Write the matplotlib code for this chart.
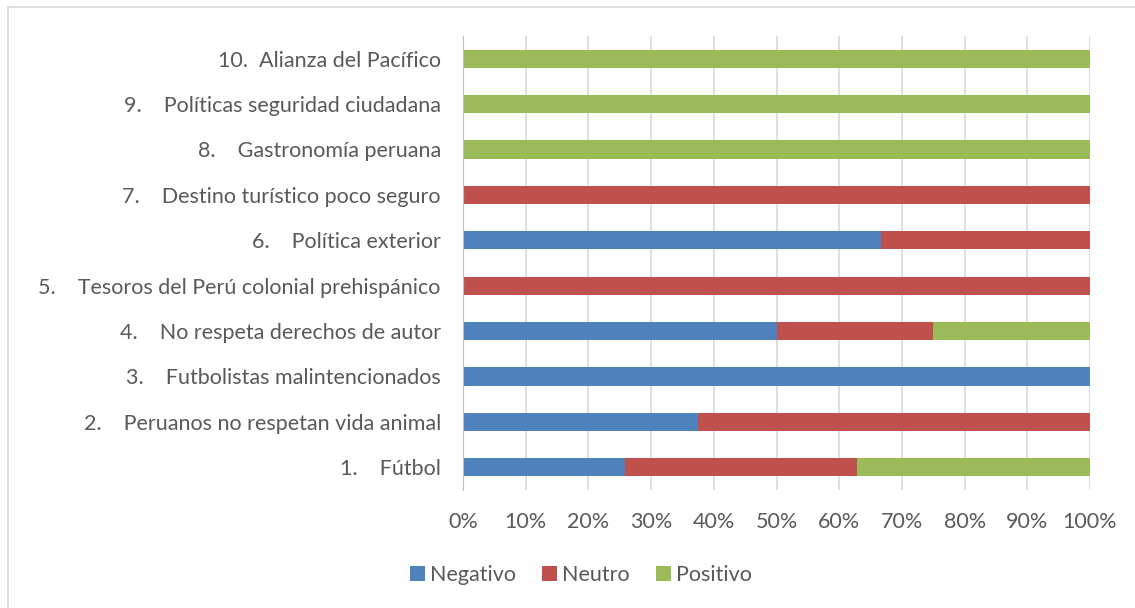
import matplotlib
matplotlib.use("Agg")
import matplotlib.pyplot as plt
from matplotlib.patches import Rectangle
from matplotlib.ticker import PercentFormatter

categories = [
    "1.    Fútbol",
    "2.    Peruanos no respetan vida animal",
    "3.    Futbolistas malintencionados",
    "4.    No respeta derechos de autor",
    "5.    Tesoros del Perú colonial prehispánico",
    "6.    Política exterior",
    "7.    Destino turístico poco seguro",
    "8.    Gastronomía peruana",
    "9.    Políticas seguridad ciudadana",
    "10.  Alianza del Pacífico",
]
negativo = [25.9, 37.5, 100, 50, 0, 66.7, 0, 0, 0, 0]
neutro = [37.0, 62.5, 0, 25, 100, 33.3, 100, 0, 0, 0]
positivo = [37.1, 0, 0, 25, 0, 0, 0, 100, 100, 100]
series_names = ["Negativo", "Neutro", "Positivo"]
colors = ["#4F81BD", "#C0504D", "#9BBB59"]

plt.rcParams['font.family'] = ['Lato', 'DejaVu Sans']
text_color = "#595959"
fs = 15.5

fig = plt.figure(figsize=(11.35, 6.08), dpi=100)
ax = fig.add_axes([463/1135, 1-490/608, (1090-463)/1135, (490-36)/608])

y = list(range(len(categories)))
left = [0]*len(categories)
for vals, name, c in zip([negativo, neutro, positivo], series_names, colors):
    ax.barh(y, vals, left=left, height=0.4, color=c, label=name, zorder=3)
    left = [l + v for l, v in zip(left, vals)]

ax.set_xlim(0, 100)
ax.set_ylim(-0.5, len(categories) - 0.5)
ax.set_xticks(range(0, 101, 10))
ax.xaxis.set_major_formatter(PercentFormatter(decimals=0))
ax.set_yticks(y)
ax.set_yticklabels(categories)
ax.tick_params(axis='both', length=0, labelsize=fs, colors=text_color)
ax.tick_params(axis='x', pad=16)
ax.tick_params(axis='y', pad=16)
ax.grid(axis='x', color="#D9D9D9", linewidth=1.2, zorder=0)
for s in ['top', 'right', 'bottom']:
    ax.spines[s].set_visible(False)
ax.spines['left'].set_color("#BFBFBF")
ax.spines['left'].set_zorder(4)

leg = ax.legend(loc='center', bbox_to_anchor=(581/1135, 1-575/608),
                bbox_transform=fig.transFigure, ncol=3, frameon=False,
                fontsize=fs, handlelength=0.7, handleheight=0.7,
                handletextpad=0.25, columnspacing=1.2)
for t in leg.get_texts():
    t.set_color(text_color)

fig.patches.append(Rectangle((8/1135, -0.1), 1.2, 1 - 7/608 + 0.1,
                             transform=fig.transFigure, fill=False,
                             edgecolor="#D9D9D9", linewidth=1.2))

fig.savefig("out.png", dpi=100)
